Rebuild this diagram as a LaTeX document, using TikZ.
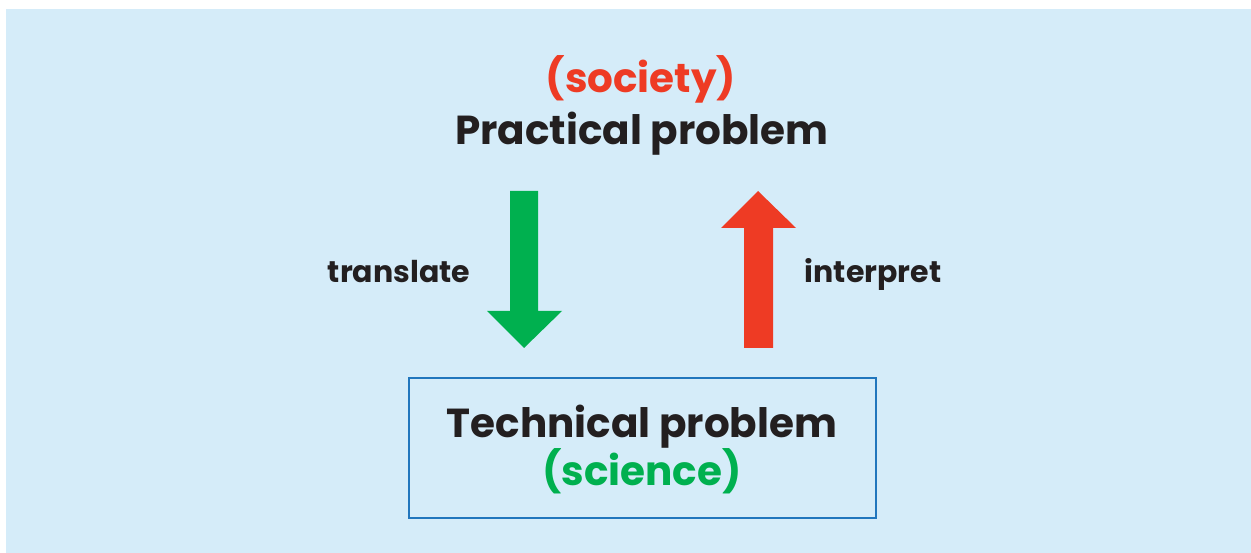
\documentclass[tikz,border=0pt]{standalone}
\usepackage{fontspec}
\setmainfont{Poppins}
\definecolor{bgblue}{HTML}{D5ECF9}
\definecolor{boxblue}{HTML}{2176BD}
\definecolor{okgreen}{HTML}{00B04F}
\definecolor{hotred}{HTML}{EE3B24}
\definecolor{ink}{HTML}{231F20}
\tikzset{
  bigtxt/.style={font=\fontsize{40.5}{48}\selectfont\bfseries, text=ink, inner sep=0pt, anchor=base},
  smalltxt/.style={font=\fontsize{30}{36}\selectfont\bfseries, text=ink, inner sep=0pt, anchor=base},
}
\begin{document}
\begin{tikzpicture}[x=1pt,y=-1pt]
\useasboundingbox (0,0) rectangle (1251,553);
\fill[bgblue] (6,9) rectangle (1251,553);
% texts
\node[bigtxt, text=hotred] (soc) at (641,93) {(society)};
\node[bigtxt] (prac) at (642,145) {Practical problem};
\node[draw=boxblue, line width=2pt, minimum width=467pt, minimum height=140pt, inner sep=0pt] (tech) at (642.5,448) {};
\node[bigtxt] (techt) at (642,437) {Technical problem};
\node[bigtxt, text=okgreen] (sci) at (642,485) {(science)};
\node[smalltxt] (tr) at (399,283) {translate};
\node[smalltxt] (ip) at (873,283) {interpret};
% arrows
\fill[okgreen] (510,191) -- (538,191) -- (538,311) -- (562,311) -- (524,348) -- (487,311) -- (510,311) -- cycle;
\fill[hotred] (744,348) -- (773,348) -- (773,228) -- (796,228) -- (758,191) -- (721,228) -- (744,228) -- cycle;
\end{tikzpicture}
\end{document}
